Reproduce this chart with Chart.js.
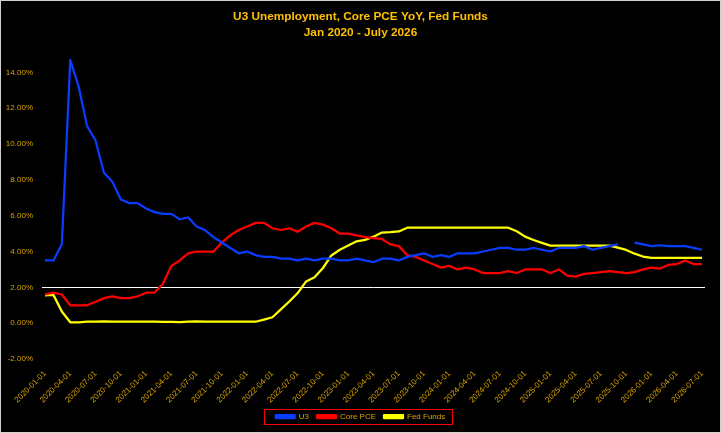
<!DOCTYPE html>
<html>
<head>
<meta charset="utf-8">
<title>U3 Unemployment, Core PCE YoY, Fed Funds</title>
<script src="https://cdn.jsdelivr.net/npm/chart.js@4.4.1/dist/chart.umd.min.js"></script>
<style>
  html, body { margin: 0; padding: 0; background: #fff; }
  #wrap { width: 721px; height: 433px; box-sizing: border-box; border: 1px solid #d0d0d0; background: #000; }
  canvas { display: block; }
</style>
</head>
<body>
<div id="wrap"><canvas id="chart" width="719" height="431"></canvas></div>
<script>
// monthly dates, Jan 2020 .. Jul 2026
const months = [];
for (let y = 2020; y <= 2026; y++) {
  for (let m = 1; m <= 12; m++) {
    if (y === 2026 && m > 7) break;
    months.push(`${y}-${String(m).padStart(2, '0')}-01`);
  }
}

// U3 unemployment rate (%), Oct 2025 missing
const u3 = [
  3.5, 3.5, 4.4, 14.7, 13.2, 11.0, 10.2, 8.4, 7.9, 6.9, 6.7, 6.7,
  6.4, 6.2, 6.1, 6.1, 5.8, 5.9, 5.4, 5.2, 4.8, 4.5, 4.2, 3.9,
  4.0, 3.8, 3.7, 3.7, 3.6, 3.6, 3.5, 3.6, 3.5, 3.6, 3.6, 3.5,
  3.5, 3.6, 3.5, 3.4, 3.6, 3.6, 3.5, 3.7, 3.8, 3.9, 3.7, 3.8,
  3.7, 3.9, 3.9, 3.9, 4.0, 4.1, 4.2, 4.2, 4.1, 4.1, 4.2, 4.1,
  4.0, 4.2, 4.2, 4.2, 4.3, 4.1, 4.2, 4.3, 4.4, null, 4.5, 4.4,
  4.3, 4.35, 4.3, 4.3, 4.3, 4.2, 4.1
];

// Core PCE YoY (%)
const corePce = [
  1.6, 1.7, 1.6, 1.0, 1.0, 1.0, 1.2, 1.4, 1.5, 1.4, 1.4, 1.5,
  1.7, 1.7, 2.2, 3.2, 3.5, 3.9, 4.0, 4.0, 4.0, 4.5, 4.9, 5.2,
  5.4, 5.6, 5.6, 5.3, 5.2, 5.3, 5.1, 5.4, 5.6, 5.5, 5.3, 5.0,
  5.0, 4.9, 4.8, 4.75, 4.7, 4.4, 4.3, 3.8, 3.7, 3.5, 3.3, 3.1,
  3.2, 3.0, 3.1, 3.0, 2.8, 2.8, 2.8, 2.9, 2.8, 3.0, 3.0, 3.0,
  2.8, 3.0, 2.65, 2.6, 2.75, 2.8, 2.85, 2.9, 2.85, 2.8, 2.85, 3.0,
  3.1, 3.05, 3.25, 3.3, 3.5, 3.3, 3.3
];

// effective fed funds rate (%)
const fedFunds = [
  1.55, 1.58, 0.65, 0.05, 0.05, 0.08, 0.09, 0.10, 0.09, 0.09, 0.09, 0.09,
  0.09, 0.08, 0.07, 0.07, 0.06, 0.08, 0.10, 0.09, 0.08, 0.08, 0.08, 0.08,
  0.08, 0.08, 0.20, 0.33, 0.77, 1.21, 1.68, 2.33, 2.56, 3.08, 3.78, 4.10,
  4.33, 4.57, 4.65, 4.83, 5.06, 5.08, 5.12, 5.33, 5.33, 5.33, 5.33, 5.33,
  5.33, 5.33, 5.33, 5.33, 5.33, 5.33, 5.33, 5.33, 5.13, 4.83, 4.64, 4.48,
  4.33, 4.33, 4.33, 4.33, 4.33, 4.33, 4.33, 4.33, 4.22, 4.09, 3.88, 3.72,
  3.64, 3.64, 3.64, 3.64, 3.64, 3.64, 3.64
];

const refLine = 2; // white reference line at 2%

const gold = '#FFC000';
const tickGold = '#D9A300';
Chart.defaults.font.family = "'Liberation Sans', Arial, sans-serif";

// white 2% line across the plot
const refLinePlugin = {
  id: 'refLine',
  beforeDatasetsDraw(chart) {
    const { ctx, chartArea, scales } = chart;
    const y = Math.round(scales.y.getPixelForValue(refLine)) + 0.5;
    ctx.save();
    ctx.strokeStyle = '#ffffff';
    ctx.lineWidth = 1;
    ctx.beginPath();
    ctx.moveTo(chartArea.left - 3, y);
    ctx.lineTo(chartArea.right + 3, y);
    ctx.stroke();
    ctx.restore();
  }
};

// centre title and legend on the whole canvas, not just the padded area
const centreBlocks = {
  id: 'centreBlocks',
  afterLayout(chart) {
    [chart.titleBlock, chart.legend].forEach(block => {
      if (!block) return;
      block.left = 0;
      block.right = chart.width;
      block.width = chart.width;
    });
  }
};

// red frame round the legend items
const legendFrame = {
  id: 'legendFrame',
  afterDraw(chart) {
    const boxes = chart.legend && chart.legend.legendHitBoxes;
    if (!boxes || !boxes.length) return;
    const left = Math.min(...boxes.map(b => b.left));
    const right = Math.max(...boxes.map(b => b.left + b.width));
    const top = Math.min(...boxes.map(b => b.top));
    const bottom = Math.max(...boxes.map(b => b.top + b.height));
    const ctx = chart.ctx;
    ctx.save();
    ctx.strokeStyle = '#ff0000';
    ctx.lineWidth = 1;
    ctx.strokeRect(Math.round(left - 12) + 0.5, Math.round(top - 3.5) + 0.5,
      Math.round(right - left + 19), Math.round(bottom - top + 7));
    ctx.restore();
  }
};

const ctx = document.getElementById('chart').getContext('2d');
new Chart(ctx, {
  type: 'line',
  data: {
    labels: months,
    datasets: [{
      label: 'U3',
      data: u3,
      borderColor: '#0a3cff',
      backgroundColor: '#0a3cff'
    },
      {
        label: 'Core PCE',
        data: corePce,
        borderColor: '#ff0000',
        backgroundColor: '#ff0000'
      },
      {
        label: 'Fed Funds',
        data: fedFunds,
        borderColor: '#ffff00',
        backgroundColor: '#ffff00'
      }]
  },
  options: {
    responsive: false,
    animation: false,
    spanGaps: false,
    layout: {
      padding: { left: 0, right: 18, top: 0, bottom: 1.5 }
    },
    elements: {
      point: { radius: 0 },
      line: { borderWidth: 2.25, tension: 0, borderJoinStyle: 'round' }
    },
    scales: {
      x: {
        grid: { display: false, drawTicks: false },
        border: { display: false },
        afterFit: function(scale) {
          scale.height = 45.5;
        },
        ticks: {
          color: tickGold,
          font: { size: 8 },
          autoSkip: false,
          minRotation: 45,
          maxRotation: 45,
          padding: 10,
          callback: function(value, index) {
            return index % 3 === 0 ? months[index] : '';
          }
        }
      },
      y: {
        min: -2,
        max: 15.5,
        grid: { display: false, drawTicks: false },
        border: { display: false },
        afterFit: function(scale) {
          scale.width = 44;
        },
        ticks: {
          stepSize: 2,
          includeBounds: false,
          color: tickGold,
          font: { size: 8 },
          padding: 12,
          callback: function(value) {
            return `${value.toFixed(2)}%`;
          }
        }
      }
    },
    plugins: {
      title: {
        display: true,
        text: ['U3 Unemployment, Core PCE YoY, Fed Funds', 'Jan 2020 - July 2026'],
        color: gold,
        font: { size: 11.8, weight: 'bold', lineHeight: 1.42 },
        padding: { top: 7, bottom: 4 }
      },
      legend: {
        position: 'bottom',
        labels: {
          color: tickGold,
          font: { size: 8 },
          boxWidth: 19,
          boxHeight: 3,
          padding: 8
        }
      },
      tooltip: { enabled: false }
    }
  },
  plugins: [refLinePlugin, centreBlocks, legendFrame]
});
</script>
</body>
</html>
